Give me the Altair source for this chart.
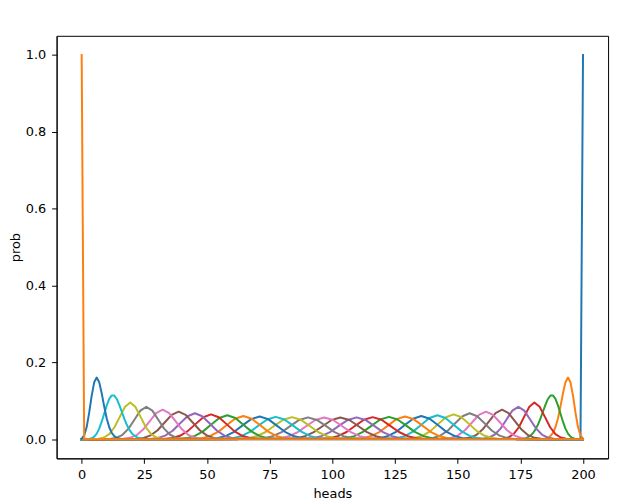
import altair as alt
import pandas as pd

# tab10 colours, used in plotting order
colors = ["#1f77b4", "#ff7f0e", "#2ca02c", "#d62728", "#9467bd",
          "#8c564b", "#e377c2", "#7f7f7f", "#bcbd22", "#17becf"]

x_ticks = [0, 25, 50, 75, 100, 125, 150, 175, 200]
y_ticks = [0.0, 0.2, 0.4, 0.6, 0.8, 1.0]

# probability profiles (shared by mirrored curves)
pr_k01 = [0.0014, 0.0095, 0.0314, 0.0690, 0.1132, 0.1479, 0.1603, 0.1481, 0.1191,
          0.0847, 0.0539, 0.0310, 0.0163, 0.0079, 0.0035, 0.0015, 0.0006, 0.0002]
pr_k30 = [0.0002, 0.0006, 0.0015, 0.0035, 0.0079, 0.0163, 0.0310, 0.0539, 0.0847,
          0.1191, 0.1481, 0.1603, 0.1479, 0.1132, 0.0690, 0.0314, 0.0095, 0.0014]
pr_k02 = [0.0000, 0.0002, 0.0007, 0.0024, 0.0064, 0.0143, 0.0273, 0.0454, 0.0668,
          0.0880, 0.1048, 0.1138, 0.1135, 0.1046, 0.0894, 0.0713, 0.0532, 0.0373,
          0.0247, 0.0154, 0.0091, 0.0051, 0.0027, 0.0014, 0.0007]
pr_k29 = [0.0007, 0.0014, 0.0027, 0.0051, 0.0091, 0.0154, 0.0247, 0.0373, 0.0532,
          0.0713, 0.0894, 0.1046, 0.1135, 0.1138, 0.1048, 0.0880, 0.0668, 0.0454,
          0.0273, 0.0143, 0.0064, 0.0024, 0.0007, 0.0002, 0.0000]
pr_k03 = [0.0011, 0.0042, 0.0129, 0.0310, 0.0579, 0.0842, 0.0954, 0.0842, 0.0579, 0.0310, 0.0129, 0.0042, 0.0011]
pr_k04 = [0.0009, 0.0037, 0.0114, 0.0273, 0.0511, 0.0743, 0.0842, 0.0743, 0.0511, 0.0273, 0.0114, 0.0037, 0.0009]
pr_k05 = [0.0009, 0.0034, 0.0104, 0.0249, 0.0465, 0.0677, 0.0767, 0.0677, 0.0465, 0.0249, 0.0104, 0.0034, 0.0009]
pr_k06 = [0.0008, 0.0031, 0.0097, 0.0232, 0.0433, 0.0630, 0.0714, 0.0630, 0.0433, 0.0232, 0.0097, 0.0031, 0.0008]
pr_k07 = [0.0007, 0.0030, 0.0091, 0.0219, 0.0409, 0.0596, 0.0675, 0.0596, 0.0409, 0.0219, 0.0091, 0.0030, 0.0007]
pr_k08 = [0.0007, 0.0028, 0.0087, 0.0209, 0.0391, 0.0569, 0.0645, 0.0569, 0.0391, 0.0209, 0.0087, 0.0028, 0.0007]
pr_k09 = [0.0007, 0.0027, 0.0084, 0.0202, 0.0377, 0.0549, 0.0622, 0.0549, 0.0377, 0.0202, 0.0084, 0.0027, 0.0007]
pr_k10 = [0.0007, 0.0026, 0.0082, 0.0196, 0.0366, 0.0532, 0.0603, 0.0532, 0.0366, 0.0196, 0.0082, 0.0026, 0.0007]
pr_k11 = [0.0007, 0.0026, 0.0080, 0.0192, 0.0358, 0.0521, 0.0590, 0.0521, 0.0358, 0.0192, 0.0080, 0.0026, 0.0007]
pr_k12 = [0.0006, 0.0025, 0.0078, 0.0188, 0.0351, 0.0511, 0.0579, 0.0511, 0.0351, 0.0188, 0.0078, 0.0025, 0.0006]
pr_k13 = [0.0006, 0.0025, 0.0077, 0.0186, 0.0347, 0.0505, 0.0572, 0.0505, 0.0347, 0.0186, 0.0077, 0.0025, 0.0006]
pr_k14 = [0.0006, 0.0025, 0.0077, 0.0184, 0.0344, 0.0500, 0.0567, 0.0500, 0.0344, 0.0184, 0.0077, 0.0025, 0.0006]
pr_k15 = [0.0006, 0.0025, 0.0076, 0.0183, 0.0343, 0.0499, 0.0565, 0.0499, 0.0343, 0.0183, 0.0076, 0.0025, 0.0006]

# heads positions of each curve, in plotting order (p = 31/31 down to 0/31)
curve_heads = [
    [0, 199, 200],
    list(range(183, 201)),
    list(range(175, 200)),
    [168.1, 170.2, 172.3, 174.4, 176.5, 178.6, 180.6, 182.7, 184.8, 186.9, 189.0, 191.1, 193.2],
    [160.0, 162.3, 164.7, 167.1, 169.5, 171.8, 174.2, 176.6, 178.9, 181.3, 183.7, 186.0, 188.4],
    [152.1, 154.7, 157.3, 159.9, 162.5, 165.1, 167.7, 170.3, 172.9, 175.5, 178.1, 180.7, 183.3],
    [144.5, 147.3, 150.1, 152.9, 155.7, 158.5, 161.3, 164.1, 166.9, 169.7, 172.5, 175.3, 178.1],
    [137.1, 140.1, 143.0, 146.0, 148.9, 151.9, 154.8, 157.8, 160.8, 163.7, 166.7, 169.6, 172.6],
    [129.8, 132.9, 136.0, 139.1, 142.2, 145.3, 148.4, 151.5, 154.6, 157.7, 160.8, 163.9, 167.0],
    [122.7, 125.9, 129.1, 132.3, 135.5, 138.7, 141.9, 145.1, 148.4, 151.6, 154.8, 158.0, 161.2],
    [115.7, 119.0, 122.3, 125.6, 128.9, 132.2, 135.5, 138.8, 142.1, 145.4, 148.7, 152.0, 155.3],
    [108.7, 112.1, 115.5, 118.9, 122.3, 125.6, 129.0, 132.4, 135.8, 139.2, 142.6, 145.9, 149.3],
    [101.9, 105.4, 108.8, 112.2, 115.7, 119.1, 122.6, 126.0, 129.5, 132.9, 136.4, 139.8, 143.2],
    [95.2, 98.7, 102.2, 105.7, 109.1, 112.6, 116.1, 119.6, 123.1, 126.6, 130.1, 133.6, 137.1],
    [88.6, 92.1, 95.6, 99.1, 102.6, 106.2, 109.7, 113.2, 116.7, 120.2, 123.8, 127.3, 130.8],
    [82.0, 85.6, 89.1, 92.6, 96.2, 99.7, 103.2, 106.8, 110.3, 113.8, 117.4, 120.9, 124.4],
    [75.6, 79.1, 82.6, 86.2, 89.7, 93.2, 96.8, 100.3, 103.8, 107.4, 110.9, 114.4, 118.0],
    [69.2, 72.7, 76.2, 79.8, 83.3, 86.8, 90.3, 93.8, 97.4, 100.9, 104.4, 107.9, 111.4],
    [62.9, 66.4, 69.9, 73.4, 76.9, 80.4, 83.9, 87.4, 90.9, 94.3, 97.8, 101.3, 104.8],
    [56.8, 60.2, 63.6, 67.1, 70.5, 74.0, 77.4, 80.9, 84.3, 87.8, 91.2, 94.6, 98.1],
    [50.7, 54.1, 57.4, 60.8, 64.2, 67.6, 71.0, 74.4, 77.7, 81.1, 84.5, 87.9, 91.3],
    [44.7, 48.0, 51.3, 54.6, 57.9, 61.2, 64.5, 67.8, 71.1, 74.4, 77.7, 81.0, 84.3],
    [38.8, 42.0, 45.2, 48.4, 51.6, 54.9, 58.1, 61.3, 64.5, 67.7, 70.9, 74.1, 77.3],
    [33.0, 36.1, 39.2, 42.3, 45.4, 48.5, 51.6, 54.7, 57.8, 60.9, 64.0, 67.1, 70.2],
    [27.4, 30.4, 33.3, 36.3, 39.2, 42.2, 45.2, 48.1, 51.1, 54.0, 57.0, 59.9, 62.9],
    [21.9, 24.7, 27.5, 30.3, 33.1, 35.9, 38.7, 41.5, 44.3, 47.1, 49.9, 52.7, 55.5],
    [16.7, 19.3, 21.9, 24.5, 27.1, 29.7, 32.3, 34.9, 37.5, 40.1, 42.7, 45.3, 47.9],
    [11.6, 14.0, 16.3, 18.7, 21.1, 23.4, 25.8, 28.2, 30.5, 32.9, 35.3, 37.7, 40.0],
    [6.8, 8.9, 11.0, 13.1, 15.2, 17.3, 19.4, 21.4, 23.5, 25.6, 27.7, 29.8, 31.9],
    list(range(1, 26)),
    list(range(0, 18)),
    [0, 1, 200],
]

curve_probs = [
    [0.0, 0.0, 1.0],
    pr_k30, pr_k29,
    pr_k03, pr_k04, pr_k05, pr_k06, pr_k07, pr_k08, pr_k09, pr_k10, pr_k11, pr_k12, pr_k13,
    pr_k14, pr_k15, pr_k15, pr_k14,
    pr_k13, pr_k12, pr_k11, pr_k10, pr_k09, pr_k08, pr_k07, pr_k06, pr_k05, pr_k04, pr_k03,
    pr_k02, pr_k01,
    [1.0, 0.0, 0.0],
]

x_enc = alt.X("heads:Q", title="heads",
              scale=alt.Scale(domain=[-10, 210], nice=False, zero=False),
              axis=alt.Axis(values=x_ticks, format="d", labelFlush=False))
y_enc = alt.Y("prob:Q", title="prob",
              scale=alt.Scale(domain=[-0.05, 1.05], nice=False, zero=False),
              axis=alt.Axis(values=y_ticks, format=".1f", labelFlush=False))

layers = []
for i, (hs, ps) in enumerate(zip(curve_heads, curve_probs)):
    xs = list(hs)
    ys = list(ps)
    if xs[0] > 0:
        xs = [0] + xs
        ys = [0.0] + ys
    if xs[-1] < 200:
        xs = xs + [200]
        ys = ys + [0.0]
    df = pd.DataFrame({"heads": xs, "prob": ys})
    layers.append(
        alt.Chart(df).mark_line(color=colors[i % 10], strokeWidth=2,
                                strokeJoin="round", strokeCap="square")
        .encode(x=x_enc, y=y_enc)
    )

chart = (
    alt.layer(*layers)
    .properties(width=556, height=426,
                autosize=alt.AutoSizeParams(type="none"),
                padding={"left": 49, "top": 26, "right": 10, "bottom": 46})
    .configure_view(stroke="black", strokeWidth=1)
    .configure_axis(grid=False, domainColor="black", domainWidth=1,
                    tickColor="black", tickWidth=1, tickSize=5,
                    labelFont="DejaVu Sans", labelFontSize=13, labelColor="black",
                    titleFont="DejaVu Sans", titleFontSize=13, titleColor="black",
                    titleFontWeight="normal")
    .configure_axisX(labelPadding=5, titlePadding=6)
    .configure_axisY(labelPadding=6, titlePadding=3)
)

chart.save("out.html", embed_options={"renderer": "svg", "actions": False})
